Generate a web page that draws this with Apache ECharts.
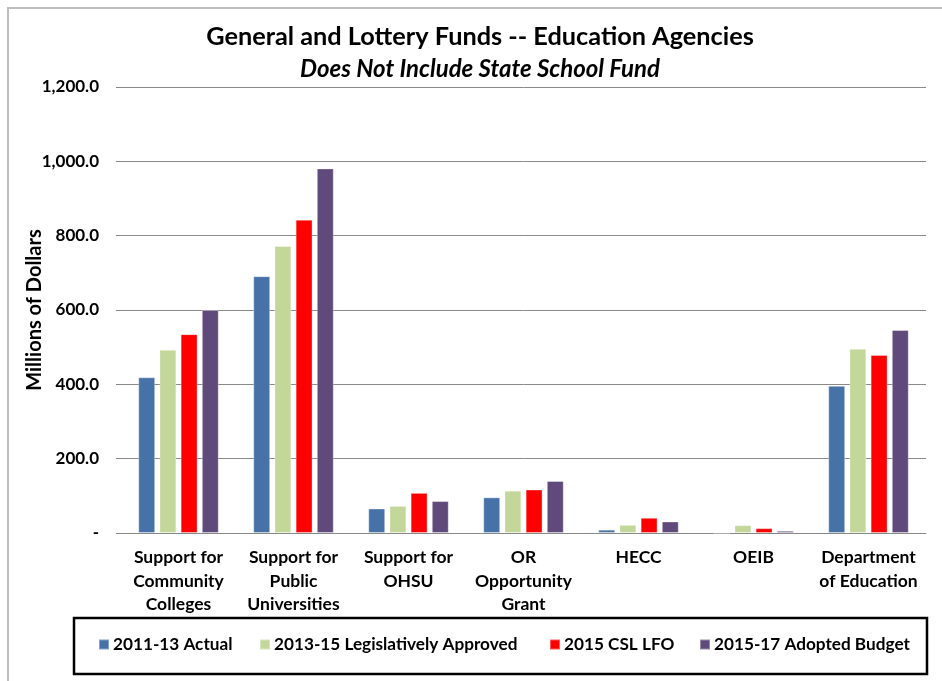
<!DOCTYPE html>
<html>
<head>
<meta charset="utf-8">
<script src="https://cdn.jsdelivr.net/npm/echarts@6/dist/echarts.min.js"></script>
<style>
  html, body { margin: 0; padding: 0; background: #fff; }
  #chart { width: 942px; height: 681px; }
</style>
</head>
<body>
<div id="chart"></div>
<script>
// Education agency funding, millions of dollars
const categories = [
  "Support for\nCommunity\nColleges",
  "Support for\nPublic\nUniversities",
  "Support for\nOHSU",
  "OR\nOpportunity\nGrant",
  "HECC",
  "OEIB",
  "Department\nof Education"
];
const seriesNames = [
  "2011-13 Actual",
  "2013-15 Legislatively Approved",
  "2015 CSL LFO",
  "2015-17 Adopted Budget"
];
const actual1113 = [419, 691, 66, 96, 9, 0, 396];
const approved1315 = [493, 772, 73, 114, 22, 21, 496];
const cslLfo2015 = [535, 843, 108, 117, 41, 13, 479];
const adopted1517 = [600, 981, 86, 140, 31, 6, 546];
const yTicks = { min: 0, max: 1200, interval: 200 };

const colors = ["#4672A8", "#C4D79B", "#FF0000", "#604A7B"];
const seriesValues = [actual1113, approved1315, cslLfo2015, adopted1517];
const FONT = "Lato, 'Liberation Sans', sans-serif";

const chart = echarts.init(document.getElementById('chart'), null, { renderer: 'canvas' });

// one legend per entry so each sits at its own spot in the boxed key
const legendLefts = [98, 259, 549, 699];
const legends = seriesNames.map((n, i) => ({
  data: [n],
  left: legendLefts[i],
  top: 636,
  orient: 'horizontal',
  icon: 'rect',
  itemWidth: 10,
  itemHeight: 10,
  itemGap: 0,
  padding: 0,
  textStyle: { fontFamily: FONT, fontWeight: 'bold', fontSize: 17.2, color: '#000', padding: [0, 0, 0, -1] }
}));

chart.setOption({
  animation: false,
  color: colors,
  title: [
    {
      text: 'General and Lottery Funds -- Education Agencies',
      left: 480, textAlign: 'center', top: 23, padding: 0,
      textStyle: { fontFamily: FONT, fontWeight: 'bold', fontSize: 25.3, color: '#000', lineHeight: 28 }
    },
    {
      text: 'Does Not Include State School Fund',
      left: 480, textAlign: 'center', top: 56, padding: 0,
      textStyle: { fontFamily: FONT, fontWeight: 'bold', fontStyle: 'italic', fontSize: 24, color: '#000', lineHeight: 26 }
    }
  ],
  legend: legends,
  grid: { left: 121, right: 16, top: 87, bottom: 148, containLabel: false },
  xAxis: {
    type: 'category',
    data: categories,
    axisLine: { show: true, lineStyle: { color: '#888', width: 1 } },
    axisTick: { show: false },
    axisLabel: {
      interval: 0, margin: 13,
      fontFamily: FONT, fontWeight: 'bold', fontSize: 17.5, color: '#000', lineHeight: 23.5
    }
  },
  yAxis: {
    type: 'value',
    min: yTicks.min, max: yTicks.max, interval: yTicks.interval,
    name: 'Millions of Dollars',
    nameLocation: 'middle',
    nameGap: 76,
    nameMoveOverlap: false,
    nameRotate: 90,
    nameTextStyle: { fontFamily: FONT, fontWeight: 'bold', fontSize: 20, color: '#000' },
    axisLine: { show: false },
    axisTick: { show: true, length: 5, lineStyle: { color: '#888' } },
    splitLine: { show: true, lineStyle: { color: '#8a8a8a', width: 1 } },
    axisLabel: {
      margin: 22,
      fontFamily: FONT, fontWeight: 'bold', fontSize: 17, color: '#000',
      formatter: v => v === 0 ? '-' : v.toLocaleString('en-US', { minimumFractionDigits: 1, maximumFractionDigits: 1 })
    }
  },
  series: seriesNames.map((n, i) => ({
    name: n,
    type: 'bar',
    data: seriesValues[i],
    barGap: '25%',
    barCategoryGap: '30%',
    itemStyle: { color: colors[i], borderColor: 'rgba(255,255,255,0.35)', borderWidth: 1 }
  })),
  graphic: [
    {
      type: 'rect', silent: true, z: -10,
      shape: { x: 8, y: 8, width: 960, height: 700 },
      style: { fill: 'none', stroke: '#bdbdbd', lineWidth: 2 }
    },
    {
      type: 'rect', silent: true,
      shape: { x: 74, y: 618, width: 853, height: 56 },
      style: { fill: 'none', stroke: '#000', lineWidth: 2.5 }
    }
  ]
});
</script>
</body>
</html>
